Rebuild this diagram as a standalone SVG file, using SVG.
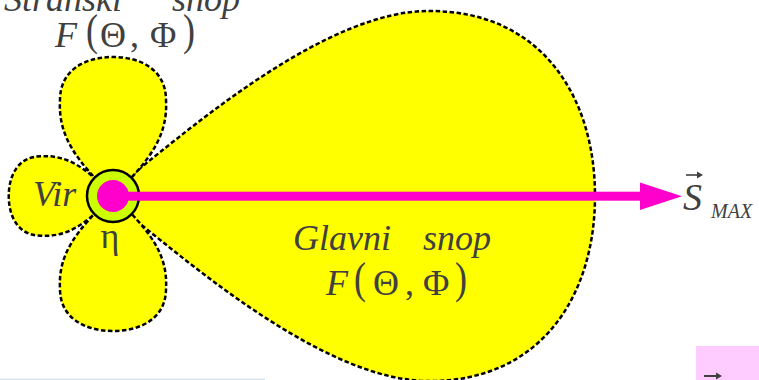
<svg xmlns="http://www.w3.org/2000/svg" width="759" height="380" viewBox="0 0 759 380">
<style>
.lobe{fill:#FFFF00;stroke:#000;stroke-width:2.5;stroke-dasharray:4.5 2.5}
.t{font-family:"Liberation Serif","Times New Roman",serif;fill:#404040;font-size:36px}
.i{font-style:italic}
</style>
<rect width="759" height="380" fill="#fff"/>
<g id="main-lobe">
<path class="lobe" d="M133,174 C200,120 330,10 430,11 C540,11 595,95 595,196 C595,297 540,381 430,381 C330,382 200,272 133,218"/>
</g>
<g id="top-lobe">
<path class="lobe" d="M113,196 C75,160 58,135 60,100 C60,70 85,57 113,57 C141,57 166,70 166,100 C168,135 151,160 113,196 Z"/>
</g>
<g id="left-lobe">
<path class="lobe" d="M113,196 C86,224.5 67.25,237.25 41,235.75 C18.5,235.75 8.75,217 8.75,196 C8.75,175 18.5,156.25 41,156.25 C67.25,154.75 86,167.5 113,196 Z"/>
</g>
<g id="bottom-lobe">
<path class="lobe" d="M113,196 C75,231 58,255 60,289 C60,318 85,331 113,331 C141,331 166,318 166,289 C168,255 151,231 113,196 Z"/>
</g>
<g id="source">
<circle cx="113" cy="196" r="26" fill="#CCFF00" stroke="#000" stroke-width="2.5"/>
</g>
<g id="connectors">
<rect x="113" y="191.7" width="528" height="9" fill="#FF00CC"/>
<polygon points="640,182.5 682,196.2 640,209.9" fill="#FF00CC"/>
<circle cx="113" cy="196" r="16" fill="#FF00CC"/>
</g>
<g id="labels">
<text class="t i" x="4" y="11">Stranski</text>
<text class="t i" x="172" y="11">snop</text>
<text class="t i" x="55" y="47">F</text>
<text class="t" transform="translate(86,45) scale(1,1.22)">(</text>
<text class="t" x="100" y="47">Θ</text>
<text class="t" x="130" y="47">,</text>
<text class="t" x="150" y="47">Φ</text>
<text class="t" transform="translate(183,45) scale(1,1.22)">)</text>
<text class="t i" x="33" y="206">Vir</text>
<text class="t" x="110" y="248" text-anchor="middle">η</text>
<text class="t i" x="293" y="250">Glavni</text>
<text class="t i" x="423" y="250">snop</text>
<text class="t i" x="326" y="295">F</text>
<text class="t" transform="translate(354,293) scale(1,1.22)">(</text>
<text class="t" x="373" y="295">Θ</text>
<text class="t" x="405" y="295">,</text>
<text class="t" x="423" y="295">Φ</text>
<text class="t" transform="translate(455,293) scale(1,1.22)">)</text>
<text class="t i" x="683" y="210" style="font-size:38px">S</text>
<text class="t i" x="711" y="218" style="font-size:20px">MAX</text>
<path d="M686,175 H699" stroke="#404040" stroke-width="1.6"/>
<polygon points="697,171.5 703,175 697,178.5" fill="#404040"/>
</g>
<rect x="696" y="346" width="63" height="34" fill="#FFCCFF"/>
<path d="M704,376 H718" stroke="#404040" stroke-width="2"/>
<polygon points="716,372.5 722,376 716,379.5" fill="#404040"/>
<rect x="0" y="378.5" width="265" height="1.5" fill="#D8E4EC"/>
</svg>
